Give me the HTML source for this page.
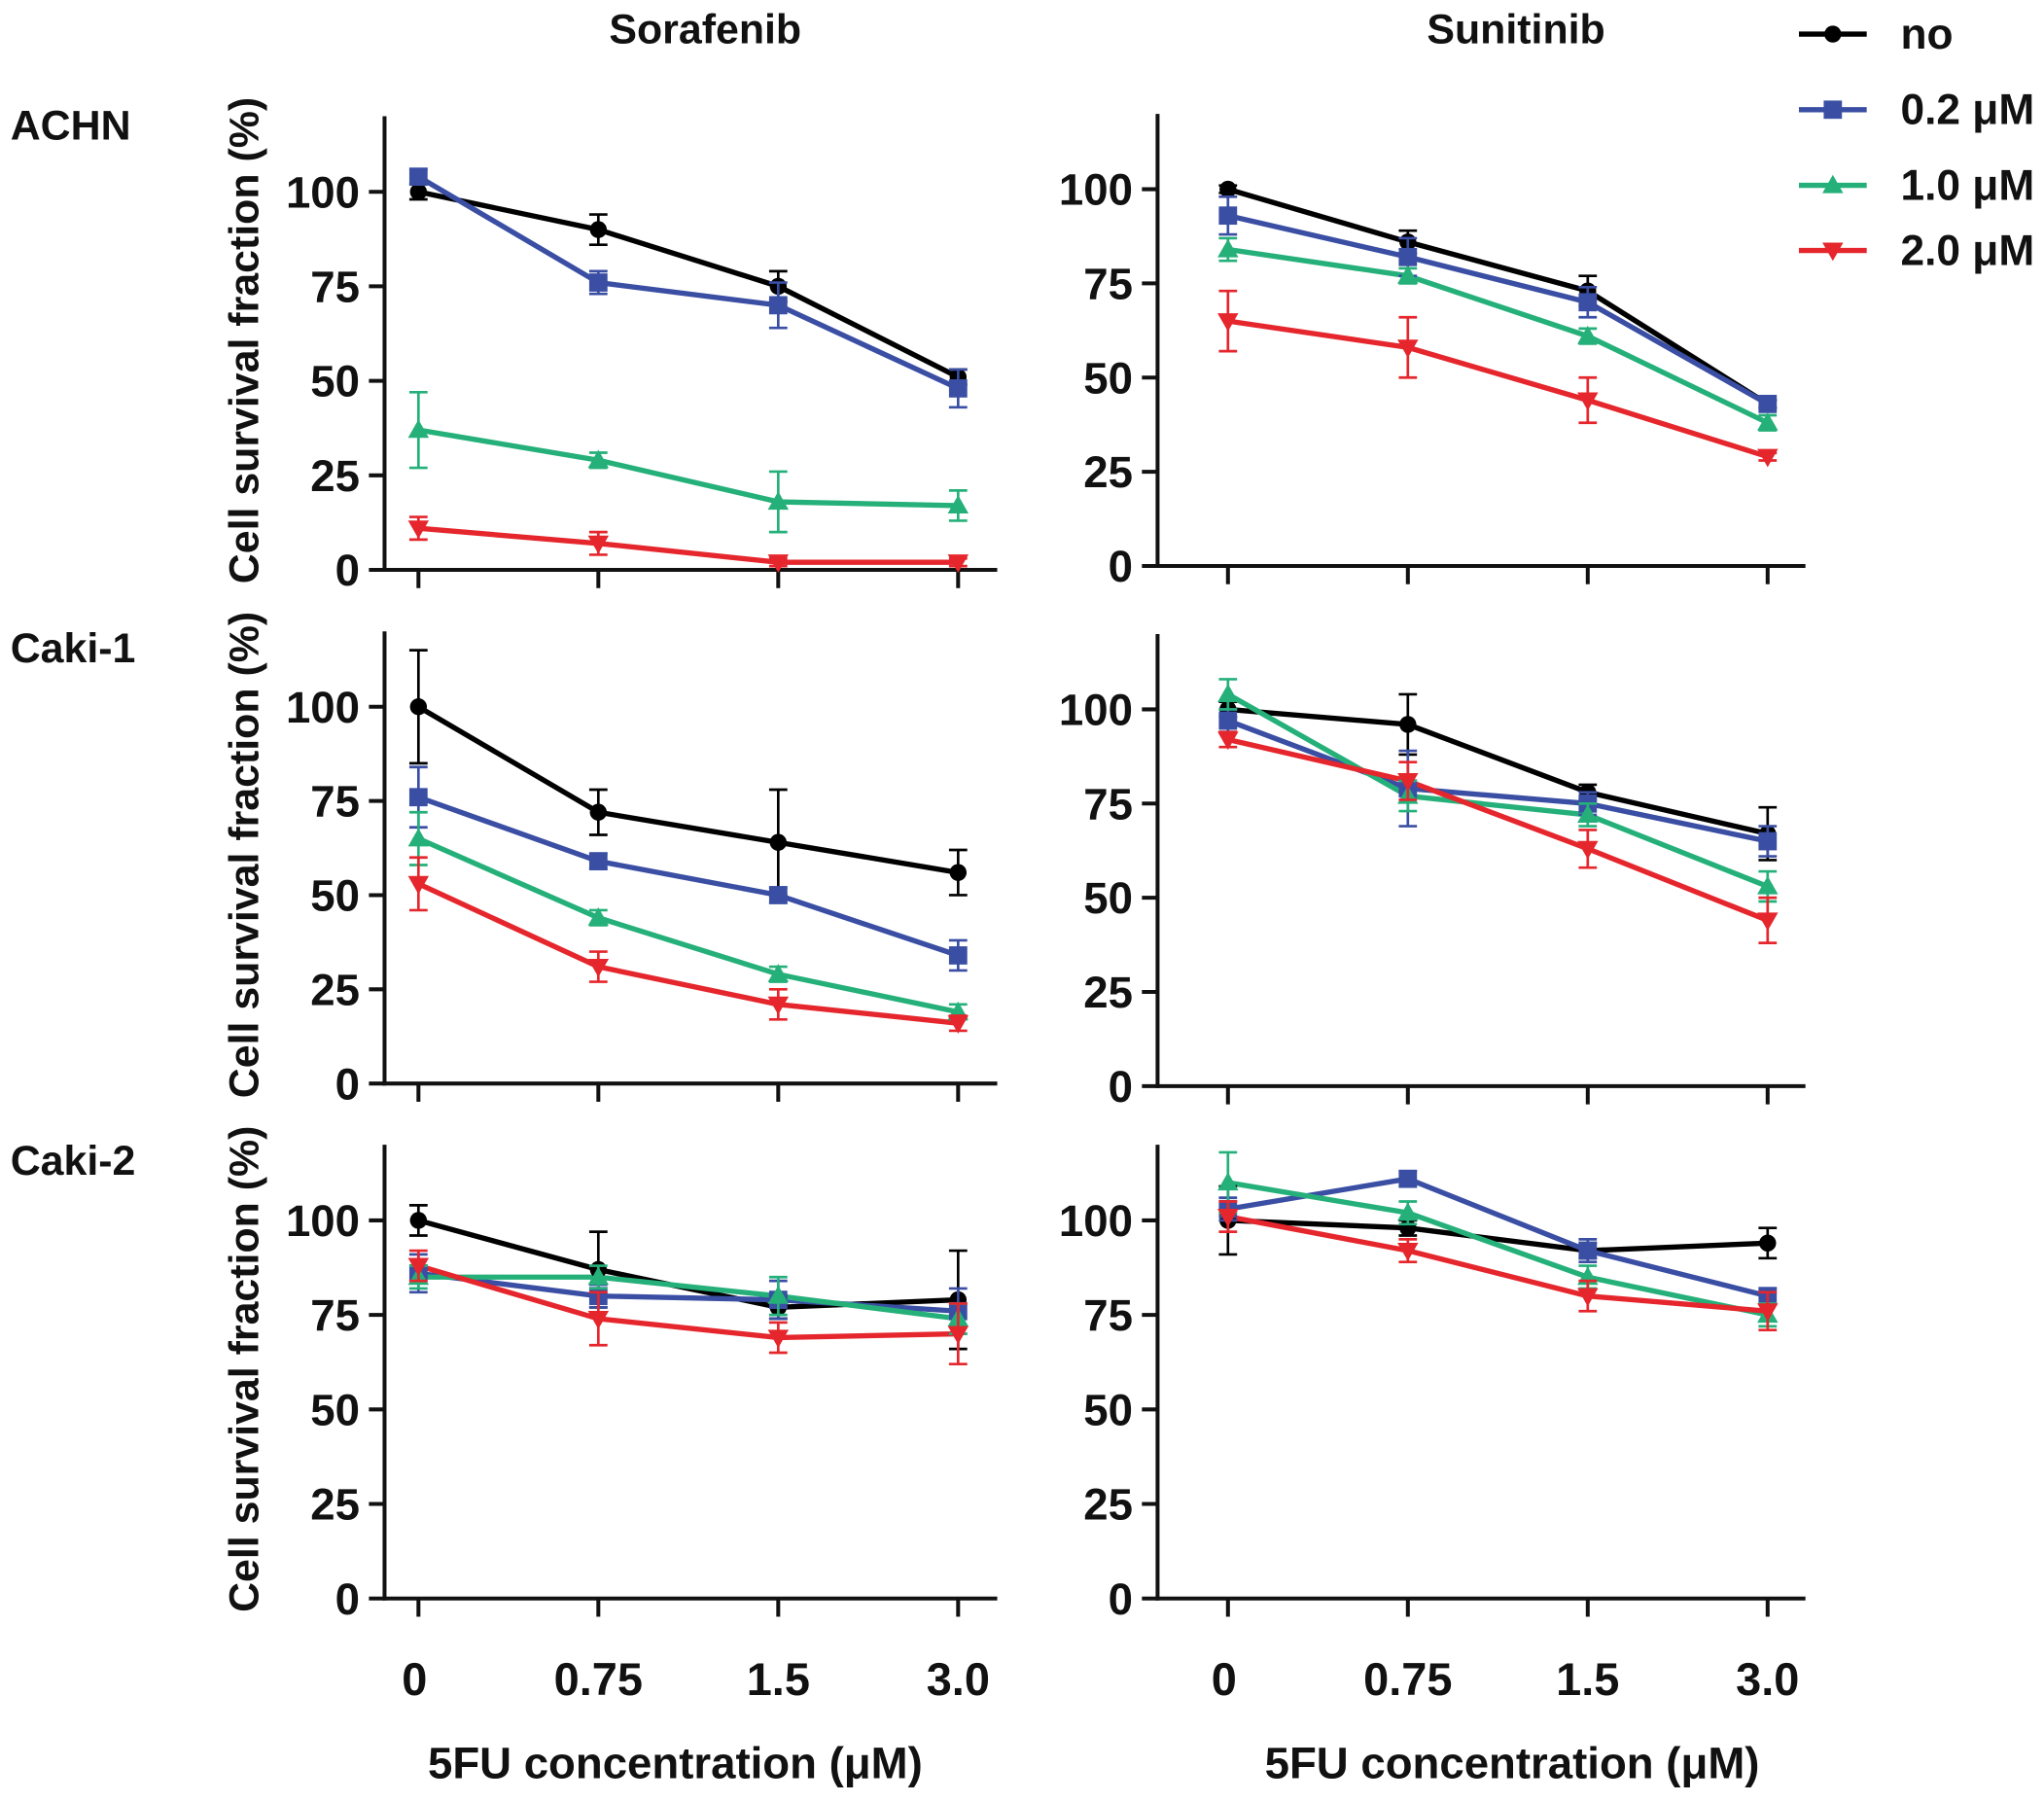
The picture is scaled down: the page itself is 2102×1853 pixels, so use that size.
<!DOCTYPE html>
<html><head><meta charset="utf-8"><style>
html,body{margin:0;padding:0;background:#fff}
svg{display:block}
text{font-family:"Liberation Sans",Arial,sans-serif;font-weight:bold;fill:#111}
</style></head><body>
<svg id="chart" width="2102" height="1853" viewBox="0 0 1568 1382" xmlns="http://www.w3.org/2000/svg"></svg>
<script>
const categories = ["0","0.75","1.5","3.0"];
const seriesNames = ["no","0.2 μM","1.0 μM","2.0 μM"];
const yTicks = [0,25,50,75,100];
// values [panel][series][category]
const achnSor = [[100,90,75,51],[104,76,70,48],[37,29,18,17],[11,7,2,2]];
const achnSun = [[100,86,73,43],[93,82,70,43],[84,77,61,38],[65,58,44,29]];
const caki1Sor = [[100,72,64,56],[76,59,50,34],[65,44,29,19],[53,31,21,16]];
const caki1Sun = [[100,96,78,67],[97,79,75,65],[104,77,72,53],[92,81,63,44]];
const caki2Sor = [[100,87,77,79],[86,80,79,76],[85,85,80,74],[88,74,69,70]];
const caki2Sun = [[100,98,92,94],[103,111,92,80],[110,102,85,75],[101,92,80,76]];
// error bar half-widths
const achnSorErr = [[2,4,4,2],[2,3,6,5],[10,2,8,4],[3,3,1,1]];
const achnSunErr = [[1,3,4,1],[5,5,4,1],[3,2,2,2],[8,8,6,1]];
const caki1SorErr = [[15,6,14,6],[8,2,2,4],[7,2,2,2],[7,4,4,2]];
const caki1SunErr = [[2,8,2,7],[3,10,3,4],[4,4,3,4],[2,5,5,6]];
const caki2SorErr = [[4,10,3,13],[5,3,5,6],[3,3,5,4],[4,7,4,8]];
const caki2SunErr = [[9,2,2,4],[3,2,3,2],[8,3,3,3],[4,3,4,5]];

const colors = ["#000000","#3a4ea3","#25b07a","#e5262c"];
const panels = [
 {d:achnSor,e:achnSorErr,x0:295,x1:765,y0:437,y100:147,cx0:321,dx:138,name:"achn-sorafenib",ylab:true,xlab:false,tx:518},
 {d:achnSun,e:achnSunErr,x0:888,x1:1385,y0:434,y100:145,cx0:942,dx:138,name:"achn-sunitinib",ylab:false,xlab:false,tx:1160},
 {d:caki1Sor,e:caki1SorErr,x0:295,x1:765,y0:831,y100:542,cx0:321,dx:138,name:"caki1-sorafenib",ylab:true,xlab:false,tx:518},
 {d:caki1Sun,e:caki1SunErr,x0:888,x1:1385,y0:833,y100:544,cx0:942,dx:138,name:"caki1-sunitinib",ylab:false,xlab:false,tx:1160},
 {d:caki2Sor,e:caki2SorErr,x0:295,x1:765,y0:1226,y100:936,cx0:321,dx:138,name:"caki2-sorafenib",ylab:true,xlab:true,tx:518},
 {d:caki2Sun,e:caki2SunErr,x0:888,x1:1385,y0:1226,y100:936,cx0:942,dx:138,name:"caki2-sunitinib",ylab:false,xlab:true,tx:1160}
];
const svg=document.getElementById('chart');
const NS="http://www.w3.org/2000/svg";
function mk(tag,attrs,parent){const e=document.createElementNS(NS,tag);for(const k in attrs)e.setAttribute(k,attrs[k]);(parent||svg).appendChild(e);return e;}
function marker(g,s,x,y){
  const c=colors[s];let m;
  if(s===0)m=mk('circle',{cx:x,cy:y,r:6.5,fill:c},g);
  else if(s===1)m=mk('rect',{x:x-7,y:y-7,width:14,height:14,fill:c},g);
  else if(s===2)m=mk('polygon',{points:`${x},${y-8} ${x+8},${y+6} ${x-8},${y+6}`,fill:c},g);
  else m=mk('polygon',{points:`${x-8},${y-6} ${x+8},${y-6} ${x},${y+8}`,fill:c},g);
  return m;
}
panels.forEach(p=>{
  const g=mk('g',{});
  
  
  const ys=v=>p.y0-(p.y0-p.y100)*v/100;
  const xs=i=>p.cx0+i*p.dx;
  const top=ys(120);
  const ya=mk('line',{x1:p.x0,y1:top,x2:p.x0,y2:p.y0+1.5,stroke:'#111','stroke-width':3},g);
  
  
  const xa=mk('line',{x1:p.x0-1.5,y1:p.y0,x2:p.x1,y2:p.y0,stroke:'#111','stroke-width':3},g);
  
  
  yTicks.forEach(t=>{
    mk('line',{x1:p.x0-12,y1:ys(t),x2:p.x0,y2:ys(t),stroke:'#111','stroke-width':3},g);
    const tl=mk('text',{x:p.x0-19,y:ys(t)+12,'text-anchor':'end','font-size':34},g);
    tl.textContent=t;
    
    
  });
  categories.forEach((c,i)=>{
    mk('line',{x1:xs(i),y1:p.y0,x2:xs(i),y2:p.y0+14,stroke:'#111','stroke-width':3},g);
    if(p.xlab){
      const tl=mk('text',{x:xs(i)-(i===0?3:0),y:1300,'text-anchor':'middle','font-size':35},g);
      tl.textContent=c;
      
      
    }
  });
  p.d.forEach((ser,s)=>{
    const pts=ser.map((v,i)=>xs(i)+','+ys(v)).join(' ');
    const l=mk('polyline',{points:pts,fill:'none',stroke:colors[s],'stroke-width':4},g);
    
    
  });
  p.d.forEach((ser,s)=>{
    ser.forEach((v,i)=>{
      const e=p.e[s][i],x=xs(i);
      mk('line',{x1:x,y1:ys(v-e),x2:x,y2:ys(v+e),stroke:colors[s],'stroke-width':2},g);
      mk('line',{x1:x-7,y1:ys(v-e),x2:x+7,y2:ys(v-e),stroke:colors[s],'stroke-width':2},g);
      mk('line',{x1:x-7,y1:ys(v+e),x2:x+7,y2:ys(v+e),stroke:colors[s],'stroke-width':2},g);
      const m=marker(g,s,x,ys(v));
      
      
    });
  });
  if(p.ylab){
    const cy=(top+p.y0)/2-2;
    const t=mk('text',{x:0,y:0,'text-anchor':'middle','font-size':32,transform:`translate(198,${cy}) rotate(-90)`},g);
    t.textContent='Cell survival fraction (%)';
    
    
  }
  if(p.xlab){
    const t=mk('text',{x:p.tx,y:1364,'text-anchor':'middle','font-size':34},g);
    t.textContent='5FU concentration (μM)';
    
    
  }
});
[["Sorafenib",541,33],["Sunitinib",1163,33]].forEach(a=>{
  const t=mk('text',{x:a[1],y:a[2],'text-anchor':'middle','font-size':32});
  t.textContent=a[0];
  
  
});
[["ACHN",107],["Caki-1",508],["Caki-2",901]].forEach(a=>{
  const t=mk('text',{x:8,y:a[1],'font-size':32});
  t.textContent=a[0];
  
  
});
const legY=[26,84,142,192];
seriesNames.forEach((n,s)=>{
  const g=mk('g',{});
  
  
  mk('line',{x1:1380,y1:legY[s],x2:1432,y2:legY[s],stroke:colors[s],'stroke-width':4},g);
  marker(g,s,1406,legY[s]);
  const t=mk('text',{x:1458,y:legY[s]+11,'font-size':33},g);
  t.textContent=n;
});
</script>
</body></html>
